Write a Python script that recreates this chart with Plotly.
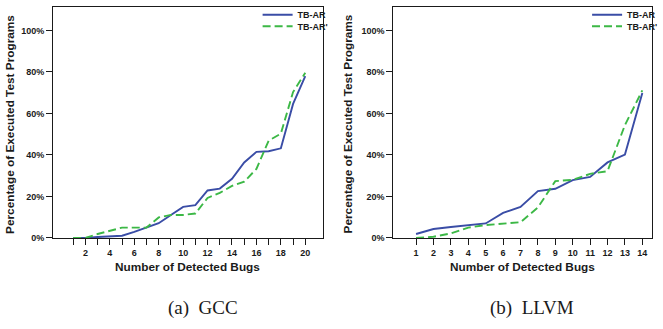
import plotly.graph_objects as go

# ---- data ----
gcc_x = list(range(1, 21))
gcc_tbar = [0, 0, 0.5, 0.9, 1.1, 2.9, 4.9, 7.1, 11.1, 15.0, 15.8, 22.9, 23.8, 28.5, 36.4, 41.5, 41.8, 43.2, 64.6, 78.0]
gcc_tbar2 = [0, 0, 1.9, 3.4, 5.0, 5.0, 5.0, 9.9, 11.1, 11.1, 11.8, 19.3, 21.7, 25.1, 27.1, 33.3, 46.9, 50.3, 70.3, 79.6]

llvm_x = list(range(1, 15))
llvm_tbar = [1.9, 4.3, 5.3, 6.3, 7.0, 12.1, 15.0, 22.6, 23.7, 27.9, 29.4, 36.4, 40.2, 69.9]
llvm_tbar2 = [0, 0.6, 2.2, 5.0, 6.2, 6.8, 7.6, 14.7, 27.4, 28.0, 30.9, 32.2, 54.4, 71.1]

y_ticks = [0, 20, 40, 60, 80, 100]
y_ticktext = ["0%", "20%", "40%", "60%", "80%", "100%"]
gcc_ticktext = [str(v) if v % 2 == 0 else "" for v in gcc_x]
llvm_ticktext = [str(v) for v in llvm_x]

series_names = ["TB-AR", "TB-AR'"]
captions = ["(a)  GCC", "(b)  LLVM"]
x_title = "Number of Detected Bugs"
y_title = "Percentage of Executed Test Programs"

BLUE = "#3a4da6"
GREEN = "#3cb846"
INK = "#1a1a1a"
W, H = 663, 329

fig = go.Figure()
fig.add_trace(go.Scatter(x=gcc_x, y=gcc_tbar, mode="lines", name=series_names[0],
                         line=dict(color=BLUE, width=1.9), xaxis="x", yaxis="y", legend="legend"))
fig.add_trace(go.Scatter(x=gcc_x, y=gcc_tbar2, mode="lines", name=series_names[1],
                         line=dict(color=GREEN, width=1.9, dash="8px,4px"), xaxis="x", yaxis="y", legend="legend2"))
fig.add_trace(go.Scatter(x=llvm_x, y=llvm_tbar, mode="lines", name=series_names[0],
                         line=dict(color=BLUE, width=1.9), xaxis="x2", yaxis="y2", legend="legend3"))
fig.add_trace(go.Scatter(x=llvm_x, y=llvm_tbar2, mode="lines", name=series_names[1],
                         line=dict(color=GREEN, width=1.9, dash="8px,4px"), xaxis="x2", yaxis="y2", legend="legend4"))

ydom = [(H - 240) / H, 1 - 0.6 / H]
tick_font_bold = dict(family="Liberation Sans", size=9, color=INK, weight="bold")
axis_common = dict(showline=True, linecolor=INK, linewidth=1.3, mirror=True,
                   ticks="outside", ticklen=6, tickwidth=1, tickcolor=INK,
                   showgrid=False, zeroline=False, tickfont=tick_font_bold)

fig.update_layout(
    width=W, height=H,
    margin=dict(l=0, r=0, t=0, b=0),
    paper_bgcolor="white", plot_bgcolor="white",
    xaxis=dict(domain=[53.3 / W, 323 / W], range=[-0.635, 21.41], tickvals=gcc_x, ticktext=gcc_ticktext,
               anchor="y", **axis_common),
    yaxis=dict(domain=ydom, range=[0, 111.5], tickvals=y_ticks, ticktext=y_ticktext, anchor="x", **axis_common),
    xaxis2=dict(domain=[394 / W, 653 / W], range=[-0.302, 14.556], tickvals=llvm_x, ticktext=llvm_ticktext,
                anchor="y2", **axis_common),
    yaxis2=dict(domain=ydom, range=[0, 111.5], tickvals=y_ticks, ticktext=y_ticktext, anchor="x2", **axis_common),
    showlegend=True,
)

leg_common = dict(bgcolor="rgba(0,0,0,0)", borderwidth=0, itemwidth=30, xanchor="left", yanchor="middle",
                  font=dict(family="Liberation Sans", size=9, color=INK, weight="bold"),
                  tracegroupgap=0, itemclick=False, itemdoubleclick=False)
fig.update_layout(
    legend=dict(x=258 / W, y=1 - 9 / H, **leg_common),
    legend2=dict(x=258 / W, y=1 - 21 / H, **leg_common),
    legend3=dict(x=588 / W, y=1 - 9 / H, **leg_common),
    legend4=dict(x=588 / W, y=1 - 21 / H, **leg_common),
)

title_font = dict(family="Liberation Sans", size=11.8, color=INK, weight="bold")
cap_font = dict(family="Liberation Serif", size=19, color=INK)
ann = []
for cx in [(53.3 + 323) / 2, (394 + 653) / 2]:
    ann.append(dict(text=x_title, x=cx / W, y=1 - 270 / H, xref="paper", yref="paper",
                    xanchor="center", yanchor="middle", showarrow=False, font=title_font))
for cx in [10, 348]:
    ann.append(dict(text=y_title, x=cx / W, y=1 - 122 / H, xref="paper", yref="paper",
                    xanchor="center", yanchor="middle", showarrow=False, textangle=-90, font=title_font))
for cx, cap in zip([203, 533], captions):
    ann.append(dict(text=cap, x=cx / W, y=1 - 312 / H, xref="paper", yref="paper",
                    xanchor="center", yanchor="middle", showarrow=False, font=cap_font))
fig.update_layout(annotations=ann)

fig.write_html("out.html")
